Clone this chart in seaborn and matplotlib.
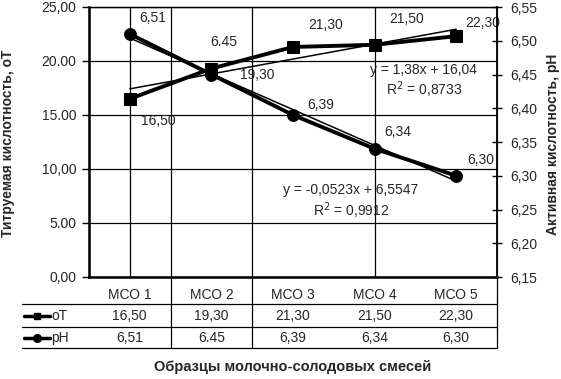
import numpy as np
import pandas as pd
import matplotlib
matplotlib.use("Agg")
import matplotlib.pyplot as plt
import matplotlib.transforms as mtransforms
import seaborn as sns

# data
samples = ["МСО 1", "МСО 2", "МСО 3", "МСО 4", "МСО 5"]
ot_values = [16.50, 19.30, 21.30, 21.50, 22.30]
ph_values = [6.51, 6.45, 6.39, 6.34, 6.30]
ot_labels = ["16,50", "19,30", "21,30", "21,50", "22,30"]
ph_labels = ["6,51", "6.45", "6,39", "6,34", "6,30"]
left_ticks = [0, 5, 10, 15, 20, 25]
left_ticklabels = ["0,00", "5.00", "10,00", "15.00", "20.00", "25,00"]
right_ticks = [6.15, 6.20, 6.25, 6.30, 6.35, 6.40, 6.45, 6.50, 6.55]
right_ticklabels = ["6,15", "6,20", "6,25", "6,30", "6,35", "6,40", "6,45", "6,50", "6,55"]

sns.set_style("white")
plt.rcParams['font.family'] = ['Liberation Sans', 'DejaVu Sans']
plt.rcParams['font.size'] = 10

W, H = 561, 379
fig = plt.figure(figsize=(W / 100, H / 100), dpi=100)
ax = fig.add_axes([89 / W, 1 - 277 / H, 408 / W, 270 / H])
ax2 = ax.twinx()

x = np.arange(len(samples))
df = pd.DataFrame({'x': x, 'oT': ot_values, 'pH': ph_values})

# trend lines (linear fit, x = 1..5 like Excel)
k1, b1 = np.polyfit(x + 1, ot_values, 1)
k2, b2 = np.polyfit(x + 1, ph_values, 1)
ax.plot(x, k1 * (x + 1) + b1, color='black', lw=1.1, zorder=3)
ax2.plot(x, k2 * (x + 1) + b2, color='black', lw=1.1, zorder=3)

sns.lineplot(data=df, x='x', y='oT', ax=ax, color='black', lw=2.8, marker='s',
             markersize=8, markeredgecolor='black', zorder=4)
sns.lineplot(data=df, x='x', y='pH', ax=ax2, color='black', lw=2.8, marker='o',
             markersize=8.5, markeredgecolor='black', zorder=4)

ax.set_xlim(-0.5, 4.5)
ax.set_ylim(0, 25)
ax2.set_ylim(6.15, 6.55)

ax.set_yticks(left_ticks, left_ticklabels)
ax2.set_yticks(right_ticks, right_ticklabels)
ax.set_xticks(x, samples)
ax.tick_params(axis='x', length=0, pad=8)
ax.tick_params(axis='y', direction='out', length=5, width=1, pad=4, color='black')
ax2.tick_params(axis='y', direction='inout', length=7, width=1, pad=6, color='black')
ax.set_xlabel('')
ax.set_ylabel('')
ax2.set_ylabel('')

# grid
ax.yaxis.grid(True, color='black', lw=0.9)
for gx in [0, 0.5, 1.5, 3]:
    ax.axvline(gx, color='black', lw=0.9, zorder=1)

for s in ['left', 'bottom']:
    ax.spines[s].set_linewidth(1.8)
    ax.spines[s].set_color('black')
ax.spines['top'].set_linewidth(1.0)
ax2.spines['right'].set_linewidth(1.3)
for s in ax2.spines.values():
    s.set_color('black')

# data labels
ot_off = [(29, -22), (46, -6), (33, 22), (32, 26), (27, 13)]
ph_off = [(23, 16), (12, 32), (28, 10), (23, 17), (25, 16)]
for i in range(len(samples)):
    ax.annotate(ot_labels[i], (x[i], ot_values[i]), xytext=(ot_off[i][0], ot_off[i][1]),
                textcoords='offset pixels', ha='center', va='center', fontsize=10, zorder=6)
    ax2.annotate(ph_labels[i], (x[i], ph_values[i]), xytext=(ph_off[i][0], ph_off[i][1]),
                 textcoords='offset pixels', ha='center', va='center', fontsize=10, zorder=6)

# trend equations
def ax_pt(px, py):
    return ((px - 89) / 408, (277 - py) / 270)

ax2.text(*ax_pt(424, 70), "y = 1,38x + 16,04", transform=ax2.transAxes, ha='center', va='center', fontsize=10)
ax2.text(*ax_pt(424, 90), "R$^2$ = 0,8733", transform=ax2.transAxes, ha='center', va='center', fontsize=10)
ax2.text(*ax_pt(351, 190), "y = -0,0523x + 6,5547", transform=ax2.transAxes, ha='center', va='center', fontsize=10)
ax2.text(*ax_pt(351, 211), "R$^2$ = 0,9912", transform=ax2.transAxes, ha='center', va='center', fontsize=10)

# data table below the axes
trans = mtransforms.blended_transform_factory(ax.transData, ax.transAxes)
tab_left = -1.32
row_lines = [-0.1, -0.185, -0.263]
for ry in row_lines:
    ax.plot([tab_left, 4.5], [ry, ry], color='black', lw=0.9, transform=trans, clip_on=False)
for sx in [0.5, 1.5, 4.5]:
    ax.plot([sx, sx], [0, -0.263], color='black', lw=0.9, transform=trans, clip_on=False)

rows = [("оТ", 's', ot_labels, -0.144, 5), ("pH", 'o', ph_labels, -0.226, 5.5)]
for name, mk, labels, ry, ms in rows:
    ax.plot([-1.297, -0.978], [ry, ry], color='black', lw=2.5, transform=trans, clip_on=False)
    ax.plot([-1.137], [ry], marker=mk, markersize=ms, color='black', transform=trans, clip_on=False)
    ax.text(-0.96, ry, name, transform=trans, ha='left', va='center', fontsize=10)
    for i in range(len(samples)):
        ax.text(x[i], ry, labels[i], transform=trans, ha='center', va='center', fontsize=10)

fig.text(293 / W, 1 - 367 / H, "Образцы молочно-солодовых смесей", ha='center', va='center',
         fontsize=10.5, fontweight='bold')
fig.text(8 / W, 1 - 143 / H, "Титруемая кислотность, оТ", rotation=90, ha='center', va='center',
         fontsize=10, fontweight='bold')
fig.text(553 / W, 1 - 144 / H, "Активная кислотность, pH", rotation=90, ha='center', va='center',
         fontsize=10, fontweight='bold')

fig.savefig("out.png", dpi=100)
